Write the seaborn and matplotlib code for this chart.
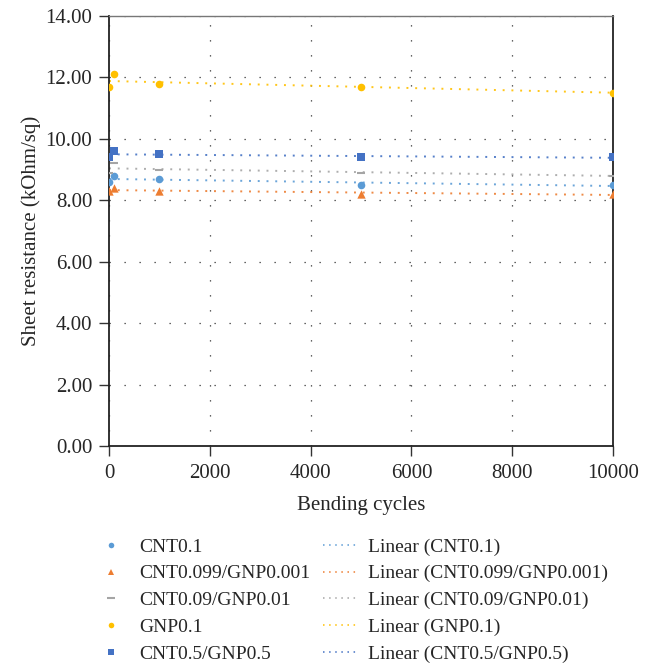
import numpy as np
import pandas as pd
import matplotlib
matplotlib.use("Agg")
import matplotlib.pyplot as plt
import seaborn as sns
from matplotlib.lines import Line2D

cycles = [0, 100, 1000, 5000, 10000]
cnt01 = [8.6, 8.8, 8.7, 8.5, 8.5]
cnt099_gnp0001 = [8.3, 8.4, 8.3, 8.2, 8.2]
cnt009_gnp001 = [8.9, 9.2, 9.0, 8.9, 8.8]
gnp01 = [11.7, 12.1, 11.8, 11.7, 11.5]
cnt05_gnp05 = [9.4, 9.6, 9.5, 9.4, 9.4]

series_names = ["CNT0.1", "CNT0.099/GNP0.001", "CNT0.09/GNP0.01", "GNP0.1", "CNT0.5/GNP0.5"]
series_values = [cnt01, cnt099_gnp0001, cnt009_gnp001, gnp01, cnt05_gnp05]
colors = ["#5B9BD5", "#ED7D31", "#A5A5A5", "#FFC000", "#4472C4"]
markers = ["o", "^", "_", "o", "s"]
msizes = [30, 36, 40, 30, 30]

sns.set_style("white")
plt.rcParams["font.family"] = ["Liberation Serif", "DejaVu Serif"]

fig = plt.figure(figsize=(6.54, 6.63), dpi=100)
ax = fig.add_axes([0.1667, 0.3273, 0.7706, 0.6486])

scatter_handles = []
line_handles = []
for name, vals, c, m, s in zip(series_names, series_values, colors, markers, msizes):
    df = pd.DataFrame({"x": cycles, "y": vals})
    sns.regplot(data=df, x="x", y="y", ax=ax, scatter=False, ci=None, color=c,
                line_kws=dict(linestyle=(0, (1, 3.5)), linewidth=1.4, alpha=0.9))
    sns.scatterplot(data=df, x="x", y="y", ax=ax, color=c, marker=m, s=s,
                    linewidth=1.5 if m == "_" else 0, edgecolor=c, zorder=5)
    scatter_handles.append(Line2D([], [], linestyle="none", marker=m, color=c,
                                  markersize=4 if m != "_" else 6,
                                  markeredgewidth=1.5 if m == "_" else 0))
    line_handles.append(Line2D([], [], color=c, linestyle=(0, (1, 3)), linewidth=1.1))

ax.set_xlim(0, 10000)
ax.set_ylim(0, 14)
ax.set_xticks(np.arange(0, 10001, 2000))
ax.set_yticks(np.arange(0, 14.01, 2))
ax.set_yticklabels([f"{v:.2f}" for v in np.arange(0, 14.01, 2)])
ax.grid(True, color="#333333", linestyle=(0, (1, 11)), linewidth=0.9)
ax.set_axisbelow(True)
ax.tick_params(axis="both", direction="out", length=7, width=1, color="#333333",
               labelsize=15, left=True, bottom=True)
ax.tick_params(axis="y", pad=5)
ax.tick_params(axis="x", pad=6)
for side in ["left", "bottom", "right"]:
    ax.spines[side].set_color("#222222")
    ax.spines[side].set_linewidth(1.3)
ax.spines["top"].set_color("#777777")
ax.spines["top"].set_linewidth(1.0)
ax.set_xlabel("Bending cycles", fontsize=15, labelpad=9)
ax.set_ylabel("Sheet resistance (kOhm/sq)", fontsize=15, labelpad=3)

leg1 = fig.legend(scatter_handles, series_names, ncol=1, frameon=False,
                  loc="upper left", bbox_to_anchor=(0.1534, 0.1886), fontsize=14,
                  handlelength=1.1, handletextpad=0.89, borderpad=0,
                  borderaxespad=0, labelspacing=0.47)
leg2 = fig.legend(line_handles, [f"Linear ({n})" for n in series_names], ncol=1,
                  frameon=False, loc="upper left", bbox_to_anchor=(0.4939, 0.1886),
                  fontsize=14, handlelength=1.75, handletextpad=0.57, borderpad=0,
                  borderaxespad=0, labelspacing=0.47)

fig.savefig("out.png", dpi=100)
